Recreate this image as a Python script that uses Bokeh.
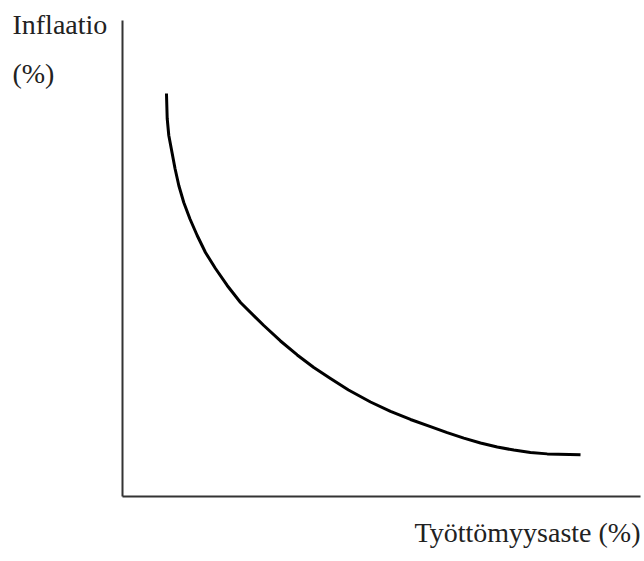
from bokeh.plotting import figure
from bokeh.models import FixedTicker, Range1d, LinearAxis
from bokeh.core.properties import value
from bokeh.embed import file_html
from bokeh.resources import INLINE

# Phillips curve (schematic): unemployment vs inflation, arbitrary units (axes 0..10)
unemployment = [0.849, 0.863, 0.894, 0.956, 1.014, 1.087, 1.183, 1.303, 1.442, 1.602,
                1.795, 2.021, 2.278, 2.728, 3.050, 3.373, 3.693, 4.015, 4.363, 4.788,
                5.174, 5.560, 5.946, 6.268, 6.589, 6.911, 7.234, 7.554, 7.876, 8.199,
                8.842]
inflation = [8.466, 7.941, 7.584, 7.227, 6.891, 6.534, 6.176, 5.830, 5.483, 5.126,
             4.790, 4.433, 4.076, 3.592, 3.267, 2.973, 2.710, 2.479, 2.237, 1.985,
             1.786, 1.618, 1.466, 1.340, 1.225, 1.124, 1.040, 0.975, 0.924, 0.895,
             0.876]

y_label_lines = ["Inflaatio", "(%)"]
x_label = "Työttömyysaste (%)"
axis_bounds = (0, 10)

W, H = 644, 561
p = figure(width=W, height=H, output_backend="svg", toolbar_location=None,
           x_range=Range1d(-2.355, 10.077), y_range=Range1d(-1.366, 10.420),
           x_axis_location=None, y_axis_location=None, min_border=0)
p.outline_line_color = None
p.xgrid.visible = False
p.ygrid.visible = False

for side in ("left", "below"):
    ax = LinearAxis(fixed_location=0, bounds=axis_bounds, ticker=FixedTicker(ticks=[]))
    ax.major_tick_line_color = None
    ax.minor_tick_line_color = None
    ax.major_label_text_color = None
    ax.axis_line_color = "#333333"
    ax.axis_line_width = 2
    p.add_layout(ax, side)

p.line(unemployment, inflation, line_color="black", line_width=3,
       line_join="round", line_cap="butt")

font = value("Liberation Serif")
p.text(x=[-2.124, -2.124], y=[9.917, 8.879], text=y_label_lines, text_font=font,
       text_font_size="28px", text_color="#222222",
       text_align="left", text_baseline="alphabetic")
p.text(x=[10.0], y=[-0.766], text=[x_label], text_font=font,
       text_font_size="28px", text_color="#222222",
       text_align="right", text_baseline="alphabetic")

open("out.html", "w").write(file_html(p, INLINE))
